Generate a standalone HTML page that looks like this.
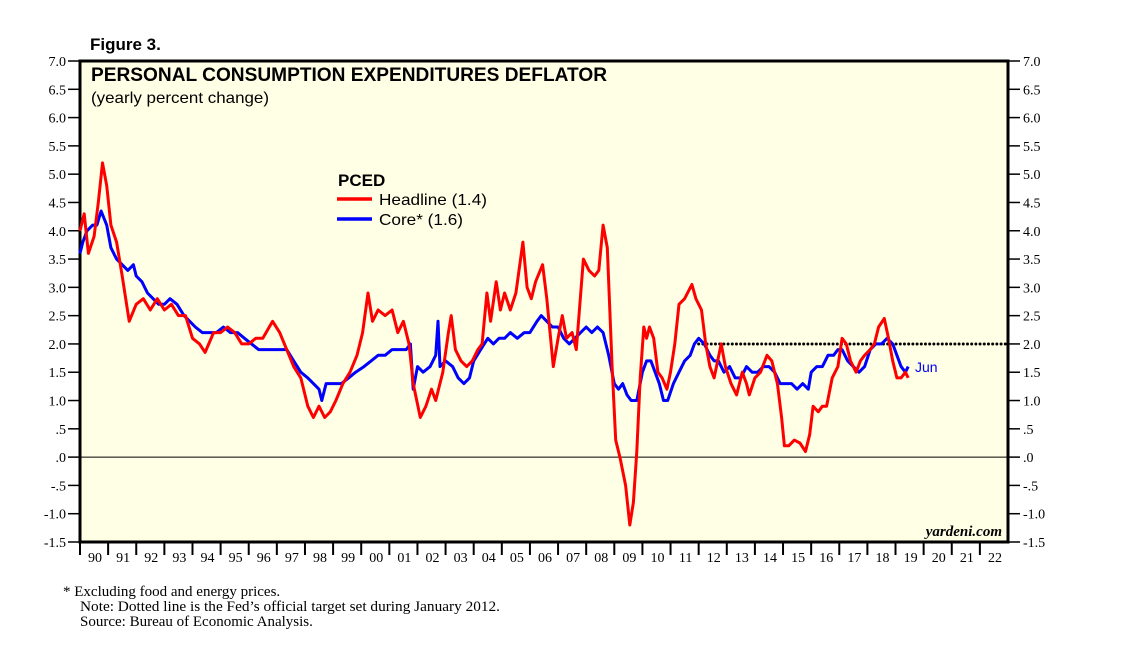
<!DOCTYPE html>
<html><head><meta charset="utf-8"><style>
body{margin:0;background:#fff;width:1138px;height:649px;overflow:hidden}
svg{display:block}
</style></head><body>
<svg id="chart" width="1138" height="649" xmlns="http://www.w3.org/2000/svg">
<text x="90" y="50" font-family="Liberation Sans, sans-serif" font-weight="bold" font-size="17">Figure 3.</text>
<rect x="80" y="61" width="928" height="481" fill="#ffffe5" stroke="#000" stroke-width="3"/>
<g id="axes"></g>
<g id="series"></g>
<text x="91" y="81" font-family="Liberation Sans, sans-serif" font-weight="bold" font-size="19" textLength="516" lengthAdjust="spacingAndGlyphs">PERSONAL CONSUMPTION EXPENDITURES DEFLATOR</text>
<text x="91" y="103" font-family="Liberation Sans, sans-serif" font-size="16" textLength="178" lengthAdjust="spacingAndGlyphs">(yearly percent change)</text>
<text x="338" y="186" font-family="Liberation Sans, sans-serif" font-weight="bold" font-size="17">PCED</text>
<line x1="337" y1="199" x2="372" y2="199" stroke="#ff0000" stroke-width="3.5"/>
<text x="379" y="205" font-family="Liberation Sans, sans-serif" font-size="16" textLength="108" lengthAdjust="spacingAndGlyphs">Headline (1.4)</text>
<line x1="337" y1="219" x2="372" y2="219" stroke="#0000ff" stroke-width="3.5"/>
<text x="379" y="225" font-family="Liberation Sans, sans-serif" font-size="16" textLength="84" lengthAdjust="spacingAndGlyphs">Core* (1.6)</text>
<text x="915" y="372" font-family="Liberation Sans, sans-serif" font-size="14" fill="#0000ff">Jun</text>
<text x="1002" y="536" text-anchor="end" font-family="Liberation Serif, serif" font-style="italic" font-weight="bold" font-size="15">yardeni.com</text>
<g font-family="Liberation Serif, serif" font-size="15">
<text x="63" y="596">*   Excluding food and energy prices.</text>
<text x="80" y="611" textLength="420" lengthAdjust="spacingAndGlyphs">Note: Dotted line is the Fed’s official target set during January 2012.</text>
<text x="80" y="626">Source: Bureau of Economic Analysis.</text>
</g>
</svg>
<script>
const yTicks=[7,6.5,6,5.5,5,4.5,4,3.5,3,2.5,2,1.5,1,0.5,0,-0.5,-1,-1.5];
const yearLabels=["90","91","92","93","94","95","96","97","98","99","00","01","02","03","04","05","06","07","08","09","10","11","12","13","14","15","16","17","18","19","20","21","22"];
const hlYears=[1990.0,1990.15,1990.3,1990.5,1990.65,1990.8,1990.95,1991.1,1991.3,1991.5,1991.75,1992.0,1992.25,1992.5,1992.75,1993.0,1993.25,1993.5,1993.75,1994.0,1994.25,1994.45,1994.75,1995.0,1995.25,1995.5,1995.75,1996.0,1996.25,1996.5,1996.85,1997.1,1997.35,1997.6,1997.85,1998.1,1998.3,1998.5,1998.7,1998.9,1999.1,1999.35,1999.6,1999.85,2000.05,2000.24,2000.4,2000.6,2000.85,2001.1,2001.3,2001.5,2001.7,2001.85,2002.1,2002.3,2002.5,2002.65,2002.9,2003.1,2003.2,2003.35,2003.55,2003.75,2003.95,2004.15,2004.3,2004.47,2004.6,2004.8,2004.95,2005.1,2005.3,2005.5,2005.75,2005.9,2006.05,2006.2,2006.45,2006.6,2006.83,2007.0,2007.15,2007.3,2007.5,2007.65,2007.9,2008.1,2008.3,2008.45,2008.6,2008.75,2008.92,2009.05,2009.2,2009.4,2009.55,2009.68,2009.8,2009.92,2010.05,2010.15,2010.25,2010.4,2010.55,2010.7,2010.87,2011.0,2011.15,2011.3,2011.5,2011.76,2011.9,2012.1,2012.25,2012.4,2012.55,2012.8,2012.95,2013.15,2013.35,2013.55,2013.7,2013.8,2014.0,2014.2,2014.43,2014.6,2014.8,2014.95,2015.05,2015.2,2015.4,2015.6,2015.8,2015.95,2016.07,2016.25,2016.4,2016.55,2016.75,2016.95,2017.1,2017.25,2017.4,2017.6,2017.75,2017.9,2018.1,2018.25,2018.4,2018.6,2018.75,2018.9,2019.05,2019.2,2019.35,2019.45];
const hlValues=[4.0,4.3,3.6,3.9,4.5,5.2,4.8,4.1,3.8,3.2,2.4,2.7,2.8,2.6,2.8,2.6,2.7,2.5,2.5,2.1,2.0,1.85,2.2,2.2,2.3,2.2,2.0,2.0,2.1,2.1,2.4,2.2,1.9,1.6,1.4,0.9,0.7,0.9,0.7,0.8,1.0,1.3,1.5,1.8,2.2,2.9,2.4,2.6,2.5,2.6,2.2,2.4,2.0,1.3,0.7,0.9,1.2,1.0,1.5,2.2,2.5,1.9,1.7,1.6,1.7,1.9,2.0,2.9,2.4,3.1,2.6,2.9,2.6,2.9,3.8,3.0,2.8,3.1,3.4,2.8,1.6,2.1,2.5,2.1,2.2,1.9,3.5,3.3,3.2,3.3,4.1,3.7,1.6,0.3,0.0,-0.5,-1.2,-0.8,0.1,1.4,2.3,2.1,2.3,2.1,1.5,1.4,1.2,1.5,2.0,2.7,2.8,3.05,2.8,2.6,2.0,1.6,1.4,2.0,1.6,1.3,1.1,1.5,1.3,1.1,1.4,1.5,1.8,1.7,1.3,0.7,0.2,0.2,0.3,0.25,0.1,0.4,0.9,0.8,0.9,0.9,1.4,1.6,2.1,2.0,1.7,1.5,1.7,1.8,1.9,2.0,2.3,2.45,2.1,1.7,1.4,1.4,1.5,1.4];
const coreYears=[1990.0,1990.1,1990.25,1990.45,1990.6,1990.75,1990.95,1991.1,1991.3,1991.5,1991.7,1991.9,1992.0,1992.2,1992.4,1992.6,1992.8,1993.0,1993.2,1993.45,1993.7,1993.9,1994.1,1994.35,1994.6,1994.85,1995.1,1995.35,1995.6,1995.85,1996.1,1996.35,1996.6,1996.85,1997.1,1997.35,1997.6,1997.85,1998.1,1998.3,1998.5,1998.6,1998.75,1999.0,1999.3,1999.55,1999.8,2000.1,2000.35,2000.6,2000.85,2001.1,2001.35,2001.6,2001.75,2001.85,2002.0,2002.2,2002.45,2002.65,2002.73,2002.8,2003.0,2003.25,2003.45,2003.65,2003.85,2004.0,2004.25,2004.5,2004.7,2004.9,2005.1,2005.3,2005.55,2005.8,2006.0,2006.25,2006.4,2006.6,2006.8,2007.0,2007.2,2007.4,2007.6,2007.8,2008.0,2008.2,2008.4,2008.6,2008.8,2009.0,2009.15,2009.3,2009.45,2009.6,2009.8,2010.0,2010.15,2010.3,2010.45,2010.6,2010.75,2010.9,2011.1,2011.3,2011.5,2011.7,2011.85,2012.0,2012.2,2012.4,2012.55,2012.7,2012.9,2013.1,2013.3,2013.5,2013.7,2013.9,2014.1,2014.3,2014.5,2014.7,2014.9,2015.1,2015.3,2015.5,2015.7,2015.9,2016.0,2016.2,2016.4,2016.6,2016.8,2016.95,2017.1,2017.3,2017.5,2017.7,2017.9,2018.1,2018.3,2018.5,2018.7,2018.9,2019.05,2019.2,2019.35,2019.45];
const coreValues=[3.6,3.8,4.0,4.1,4.1,4.35,4.1,3.7,3.5,3.4,3.3,3.4,3.2,3.1,2.9,2.8,2.7,2.7,2.8,2.7,2.5,2.4,2.3,2.2,2.2,2.2,2.3,2.2,2.2,2.1,2.0,1.9,1.9,1.9,1.9,1.9,1.7,1.5,1.4,1.3,1.2,1.0,1.3,1.3,1.3,1.4,1.5,1.6,1.7,1.8,1.8,1.9,1.9,1.9,2.0,1.2,1.6,1.5,1.6,1.8,2.4,1.6,1.7,1.6,1.4,1.3,1.4,1.7,1.9,2.1,2.0,2.1,2.1,2.2,2.1,2.2,2.2,2.4,2.5,2.4,2.3,2.3,2.1,2.0,2.1,2.2,2.3,2.2,2.3,2.2,1.8,1.3,1.2,1.3,1.1,1.0,1.0,1.5,1.7,1.7,1.5,1.3,1.0,1.0,1.3,1.5,1.7,1.8,2.0,2.1,2.0,1.8,1.7,1.7,1.5,1.6,1.4,1.4,1.6,1.5,1.5,1.6,1.6,1.5,1.3,1.3,1.3,1.2,1.3,1.2,1.5,1.6,1.6,1.8,1.8,1.9,1.9,1.7,1.6,1.5,1.6,1.9,2.0,2.0,2.1,2.0,1.8,1.6,1.5,1.6];
const targetValue=2.0, targetStart=2012.0;

const NS="http://www.w3.org/2000/svg";
const L=80,R=1008,T=61,B=542,Y0=1990,Y1=2023,VMAX=7,VMIN=-1.5;
const xS=y=>L+(y-Y0)/(Y1-Y0)*(R-L);
const yS=v=>T+(VMAX-v)/(VMAX-VMIN)*(B-T);
const axes=document.getElementById('axes'), series=document.getElementById('series');
function mk(tag,attrs,parent){const e=document.createElementNS(NS,tag);for(const k in attrs)e.setAttribute(k,attrs[k]);parent.appendChild(e);return e;}
function fmt(v){let s=Math.abs(v).toFixed(1);if(Math.abs(v)<1)s=s.slice(1);return (v<0?'-':'')+s;}
yTicks.forEach(v=>{
  const y=yS(v);
  const t1=mk('line',{x1:68,y1:y,x2:80,y2:y,stroke:'#000','stroke-width':1.5},axes);
  
  
  const t2=mk('line',{x1:1008,y1:y,x2:1020,y2:y,stroke:'#000','stroke-width':1.5},axes);
  
  
  const a=mk('text',{x:66,y:y+5,'text-anchor':'end','font-family':'Liberation Serif, serif','font-size':14},axes);a.textContent=fmt(v);
  
  
  const b=mk('text',{x:1023,y:y+5,'font-family':'Liberation Serif, serif','font-size':14},axes);b.textContent=fmt(v);
  
  
});
const z=mk('line',{x1:L,y1:yS(0),x2:R,y2:yS(0),stroke:'#000','stroke-width':1},axes);


yearLabels.forEach((lab,i)=>{
  const x=xS(Y0+i);
  const t=mk('line',{x1:x,y1:542,x2:x,y2:555,stroke:'#000','stroke-width':2},axes);
  
  
  const tx=mk('text',{x:xS(Y0+i+0.5)+1,y:562,'text-anchor':'middle','font-family':'Liberation Serif, serif','font-size':14},axes);tx.textContent=lab;
  
  
});
const tl=mk('line',{x1:xS(targetStart),y1:yS(targetValue),x2:R,y2:yS(targetValue),stroke:'#000','stroke-width':3,'stroke-dasharray':'0 4.2','stroke-linecap':'round'},series);


function path(xs,vs){return xs.map((y,i)=>(i?'L':'M')+xS(y).toFixed(1)+','+yS(vs[i]).toFixed(1)).join('');}
const cp=mk('path',{d:path(coreYears,coreValues),fill:'none',stroke:'#0000ff','stroke-width':3,'stroke-linejoin':'round'},series);


const hp=mk('path',{d:path(hlYears,hlValues),fill:'none',stroke:'#ff0000','stroke-width':3,'stroke-linejoin':'round'},series);


</script>
</body></html>
